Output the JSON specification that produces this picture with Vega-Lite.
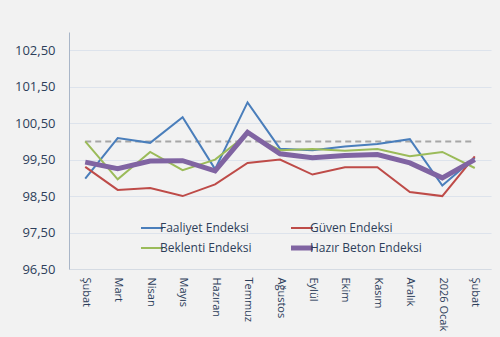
{
  "$schema": "https://vega.github.io/schema/vega-lite/v6.json",
  "width": 422,
  "height": 237,
  "autosize": {"type": "none"},
  "padding": {"left": 69, "top": 32, "right": 9, "bottom": 68},
  "background": "#f2f2f2",
  "config": {
    "view": {"stroke": null},
    "font": "Open Sans",
    "axis": {"labelColor": "#2d3e5a", "domainColor": "#b9c3d0", "tickColor": "#d5dbe3"}
  },
  "data": {
    "values": [
      {"m": "Şubat|1", "Faaliyet Endeksi": 98.98, "Güven Endeksi": 99.30, "Beklenti Endeksi": 100.00, "Hazır Beton Endeksi": 99.43, "ref": 100},
      {"m": "Mart", "Faaliyet Endeksi": 100.09, "Güven Endeksi": 98.67, "Beklenti Endeksi": 98.96, "Hazır Beton Endeksi": 99.25, "ref": 100},
      {"m": "Nisan", "Faaliyet Endeksi": 99.96, "Güven Endeksi": 98.72, "Beklenti Endeksi": 99.71, "Hazır Beton Endeksi": 99.46, "ref": 100},
      {"m": "Mayıs", "Faaliyet Endeksi": 100.66, "Güven Endeksi": 98.50, "Beklenti Endeksi": 99.21, "Hazır Beton Endeksi": 99.47, "ref": 100},
      {"m": "Hazıran", "Faaliyet Endeksi": 99.24, "Güven Endeksi": 98.82, "Beklenti Endeksi": 99.50, "Hazır Beton Endeksi": 99.19, "ref": 100},
      {"m": "Temmuz", "Faaliyet Endeksi": 101.07, "Güven Endeksi": 99.41, "Beklenti Endeksi": 100.20, "Hazır Beton Endeksi": 100.25, "ref": 100},
      {"m": "Ağustos", "Faaliyet Endeksi": 99.80, "Güven Endeksi": 99.50, "Beklenti Endeksi": 99.76, "Hazır Beton Endeksi": 99.66, "ref": 100},
      {"m": "Eylül", "Faaliyet Endeksi": 99.76, "Güven Endeksi": 99.09, "Beklenti Endeksi": 99.79, "Hazır Beton Endeksi": 99.55, "ref": 100},
      {"m": "Ekim", "Faaliyet Endeksi": 99.86, "Güven Endeksi": 99.29, "Beklenti Endeksi": 99.74, "Hazır Beton Endeksi": 99.61, "ref": 100},
      {"m": "Kasım", "Faaliyet Endeksi": 99.93, "Güven Endeksi": 99.29, "Beklenti Endeksi": 99.79, "Hazır Beton Endeksi": 99.64, "ref": 100},
      {"m": "Aralık", "Faaliyet Endeksi": 100.06, "Güven Endeksi": 98.61, "Beklenti Endeksi": 99.59, "Hazır Beton Endeksi": 99.41, "ref": 100},
      {"m": "2026 Ocak", "Faaliyet Endeksi": 98.79, "Güven Endeksi": 98.50, "Beklenti Endeksi": 99.71, "Hazır Beton Endeksi": 99.00, "ref": 100},
      {"m": "Şubat|2", "Faaliyet Endeksi": 99.55, "Güven Endeksi": 99.59, "Beklenti Endeksi": 99.27, "Hazır Beton Endeksi": 99.50, "ref": 100}
    ]
  },
  "encoding": {
    "x": {
      "field": "m", "type": "ordinal", "sort": null,
      "scale": {"type": "point", "padding": 0.5},
      "axis": {
        "title": null, "labelAngle": 90, "labelFontSize": 11, "labelPadding": 8,
        "labelExpr": "split(datum.value, '|')[0]", "ticks": false, "domainColor": "#d5dbe3"
      }
    },
    "y": {
      "type": "quantitative",
      "scale": {"domain": [96.5, 103], "nice": false, "zero": false},
      "axis": {
        "title": null, "values": [96.5, 97.5, 98.5, 99.5, 100.5, 101.5, 102.5],
        "labelExpr": "replace(format(datum.value, '.2f'), '.', ',')",
        "labelFontSize": 13, "labelPadding": 14, "ticks": false, "labelOverlap": false,
        "gridColor": "#dde3ec", "gridWidth": 1, "domainColor": "#a9b6c8"
      }
    }
  },
  "layer": [
    {
      "mark": {"type": "line", "color": "#a6a6a6", "strokeDash": [6, 4], "strokeWidth": 2},
      "encoding": {
        "y": {"field": "ref"}
      }
    },
    {
      "transform": [
        {"fold": ["Faaliyet Endeksi", "Güven Endeksi", "Beklenti Endeksi"], "as": ["series", "value"]}
      ],
      "mark": {"type": "line", "strokeWidth": 2},
      "encoding": {
        "y": {"field": "value"},
        "color": {
          "field": "series", "type": "nominal",
          "scale": {
            "domain": ["Faaliyet Endeksi", "Beklenti Endeksi", "Güven Endeksi", "Hazır Beton Endeksi"],
            "range": ["#4a7ebb", "#9bbb59", "#be4b48", "#8064a2"]
          },
          "legend": {
            "title": null, "orient": "none", "legendX": 77, "legendY": 190,
            "columns": 2, "columnPadding": 29, "rowPadding": 4,
            "symbolType": "stroke", "symbolSize": 484, "labelFontSize": 12,
            "labelColor": "#2d3e5a", "labelOffset": 2,
            "encode": {"symbols": {"update": {"strokeWidth": {"signal": "datum.label == 'Hazır Beton Endeksi' ? 5 : 2"}}}}
          }
        }
      }
    },
    {
      "transform": [
        {"fold": ["Hazır Beton Endeksi"], "as": ["series", "value"]}
      ],
      "mark": {"type": "line", "strokeWidth": 5},
      "encoding": {
        "y": {"field": "value"},
        "color": {"field": "series", "type": "nominal"}
      }
    }
  ]
}
